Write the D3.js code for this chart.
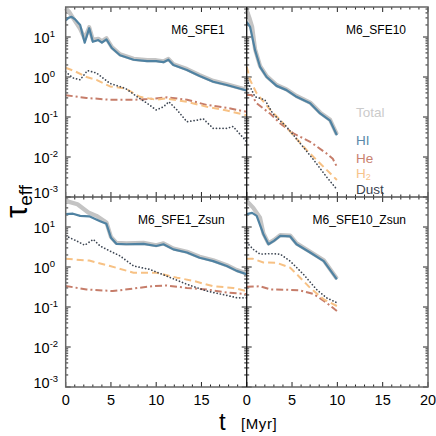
<!DOCTYPE html>
<html>
<head>
<meta charset="utf-8">
<script src="https://cdn.jsdelivr.net/npm/d3@7"></script>
<style>
  body { margin: 0; background: #fff; }
  svg { font-family: "Liberation Sans", Arial, sans-serif; }
</style>
</head>
<body>
<div id="chart"></div>
<script>
// panel names
const panelNames = ["M6_SFE1", "M6_SFE10", "M6_SFE1_Zsun", "M6_SFE10_Zsun"];

// [t (Myr), tau] pairs
const sfe1Total = [[0,52],[0.4,42],[0.8,30],[1.2,22],[1.6,16],[2.1,9],[2.6,17.5],[3.0,8.5],[3.6,9],[4.0,7.8],[4.5,9.3],[5.1,5.6],[6,3.7],[7.5,2.85],[9,2.63],[10,2.63],[10.8,2.47],[11.35,2.84],[11.9,2.1],[13.4,1.58],[14.8,1.11],[16.3,0.8],[17.8,0.66],[20,0.48]];
const sfe1HI = [[0,26],[0.3,30],[0.66,32],[1.0,28],[1.6,20],[2.1,7.2],[2.6,16.6],[3.0,7.6],[3.6,8.4],[4.0,7.2],[4.5,8.7],[5.1,5.3],[6,3.5],[7.5,2.7],[9,2.5],[10,2.5],[10.8,2.35],[11.35,2.7],[11.9,2.0],[13.4,1.5],[14.8,1.06],[16.3,0.76],[17.8,0.63],[20,0.46]];
const sfe1He = [[0,0.35],[2.3,0.30],[4.9,0.27],[7.5,0.27],[9,0.28],[11.2,0.31],[13.4,0.27],[15.6,0.2],[17.8,0.17],[20,0.135]];
const sfe1H2 = [[0,1.7],[1,1.4],[2.3,1.0],[3.4,0.85],[4.9,0.58],[6.6,0.52],[8.2,0.32],[10,0.27],[11,0.29],[13.4,0.24],[15.6,0.18],[17.8,0.145],[20,0.11]];
const sfe1Dust = [[0,1.35],[0.8,0.95],[1.6,0.85],[2.4,1.45],[3.4,1.26],[4.9,0.69],[6.6,0.52],[7.9,0.32],[9,0.22],[10,0.15],[10.8,0.18],[11.4,0.24],[12.3,0.15],[13.4,0.076],[14.5,0.083],[15.2,0.09],[16.3,0.052],[17.8,0.052],[18.5,0.058],[20,0.024]];

const sfe10Total = [[0,47],[0.3,30],[0.6,18],[0.92,5.0],[1.47,1.9],[2.2,1.05],[3.3,0.63],[4.4,0.49],[5.5,0.335],[7,0.23],[8.1,0.129],[9.2,0.085],[9.95,0.037]];
const sfe10HI = [[0,24],[0.37,18],[0.92,4.7],[1.47,1.8],[2.2,1.0],[3.3,0.6],[4.4,0.47],[5.5,0.32],[7,0.22],[8.1,0.123],[9.2,0.081],[9.95,0.035]];
const sfe10He = [[0,0.355],[0.55,0.355],[1.1,0.22],[2.6,0.12],[3.7,0.069],[5.15,0.039],[7,0.024],[8.8,0.0123],[9.5,0.009],[9.95,0.0057]];
const sfe10H2 = [[0,1.8],[0.37,0.84],[1.1,0.39],[2.6,0.15],[3.7,0.084],[5.15,0.035],[6.6,0.015],[8.1,0.0069],[9.95,0.00266]];
const sfe10Dust = [[0,0.84],[0.92,0.32],[2,0.27],[2.9,0.12],[4.4,0.057],[5.9,0.022],[7.4,0.0084],[8.8,0.0032],[9.95,0.00155]];

const zsun1Total = [[0,45],[1.3,37],[2.5,23],[3.4,19],[4.5,13],[5.0,5.7],[5.6,4.0],[6.7,3.9],[8.6,4.0],[10,3.5],[10.8,3.9],[11.9,2.9],[13.4,2.4],[14.8,1.8],[16.3,1.47],[17.8,1.11],[18.9,0.84],[20,0.69]];
const zsun1HI = [[0,21],[0.8,21.5],[1.6,19],[2.6,18.5],[3.8,14],[4.5,12],[5.0,5.4],[5.6,3.8],[6.7,3.7],[8.6,3.8],[10,3.35],[10.8,3.7],[11.9,2.76],[13.4,2.3],[14.8,1.7],[16.3,1.4],[17.8,1.06],[18.9,0.8],[20,0.66]];
const zsun1He = [[0,0.335],[2.3,0.275],[5.2,0.25],[7.5,0.29],[9.7,0.335],[11.1,0.345],[13.4,0.3],[15.6,0.275],[17.8,0.23],[20,0.21]];
const zsun1H2 = [[0,1.6],[2.6,1.45],[4.9,1.06],[7.5,0.72],[10,0.72],[12.3,0.54],[14.1,0.45],[16.3,0.33],[18.5,0.3],[20,0.25]];
const zsun1Dust = [[0,6],[1.2,4.5],[2.1,3.5],[3.05,4.9],[3.8,3.35],[4.9,2.5],[6,1.9],[7.5,1.06],[9.3,0.87],[11.1,0.6],[13.4,0.37],[15.6,0.25],[17.8,0.195],[18.9,0.17],[20,0.17]];

const zsun10Total = [[0,45],[0.73,30],[1.47,17],[1.84,7],[2.4,3.9],[3.0,4.7],[3.7,6.3],[4.8,6.1],[5.5,3.9],[7,2.4],[8.5,1.47],[9.95,0.51]];
const zsun10HI = [[0,21],[0.6,22.5],[1.1,19],[1.84,6.6],[2.4,3.7],[3.0,4.5],[3.7,6],[4.8,5.8],[5.5,3.7],[7,2.3],[8.5,1.4],[9.95,0.49]];
const zsun10He = [[0,0.32],[1.47,0.33],[2.6,0.275],[4.4,0.27],[5.9,0.26],[7.4,0.21],[8.8,0.128],[9.95,0.079]];
const zsun10H2 = [[0,1.6],[0.7,1.6],[1.84,1.3],[3.3,1.27],[4.8,0.96],[5.9,0.54],[7,0.3],[8.5,0.155],[9.95,0.106]];
const zsun10Dust = [[0,4.1],[0.73,2.76],[1.47,2.1],[2.6,2.15],[3.7,2.1],[4.8,1.4],[6.25,0.66],[7.7,0.275],[8.8,0.17],[9.95,0.128]];

// legend / series names
const seriesNames = ["Total", "HI", "He", "H2", "Dust"];
const xTickValues = [0, 5, 10, 15, 20];
const yTickExponents = [1, 0, -1, -2, -3];

const panelSeries = [
  [sfe1Total, sfe1HI, sfe1He, sfe1H2, sfe1Dust],
  [sfe10Total, sfe10HI, sfe10He, sfe10H2, sfe10Dust],
  [zsun1Total, zsun1HI, zsun1He, zsun1H2, zsun1Dust],
  [zsun10Total, zsun10HI, zsun10He, zsun10H2, zsun10Dust]
];

// styles per series
const styles = {
  Total: { color: "#c4c4c4", width: 4.2, dash: null },
  HI:    { color: "#4f82a2", width: 2.2, dash: null },
  He:    { color: "#c67d6a", width: 2, dash: "7,3,2,3" },
  H2:    { color: "#f7c184", width: 2, dash: "7,4" },
  Dust:  { color: "#3d4653", width: 1.7, dash: "0.1,3.2" }
};
const legendColors = { Total: "#cbcbcb", HI: "#5a89aa", He: "#c98270", H2: "#f7c48b", Dust: "#39424f" };

const W = 436, H = 436;
const colX = [[65.7, 246.7], [246.7, 428]];
const rowY = [[7, 197], [197, 387]];

const svg = d3.select("#chart").append("svg")
  .attr("width", W).attr("height", H);

const line = d3.line();

panelSeries.forEach((series, i) => {
  const col = i % 2, row = Math.floor(i / 2);
  const [x0, x1] = colX[col];
  const [y0, y1] = rowY[row];

  const x = d3.scaleLinear().domain([0, 20]).range([x0, x1]);
  const y = d3.scaleLog().domain([1e-3, Math.pow(10, 1.75)]).range([y1, y0]);

  const g = svg.append("g");

  // ticks (inward, all four sides)
  const xMinor = d3.range(0, 21, 1);
  xMinor.forEach(t => {
    const len = t % 5 === 0 ? 5 : 2.5;
    g.append("line").attr("x1", x(t)).attr("x2", x(t))
      .attr("y1", y1).attr("y2", y1 - len).attr("stroke", "#222").attr("stroke-width", 1);
    g.append("line").attr("x1", x(t)).attr("x2", x(t))
      .attr("y1", y0).attr("y2", y0 + len).attr("stroke", "#222").attr("stroke-width", 1);
  });
  y.ticks().forEach(v => {
    const lg = Math.log10(v);
    const major = Math.abs(lg - Math.round(lg)) < 1e-6;
    const len = major ? 5 : 2.5;
    if (y(v) < y0 - 0.5) return;
    g.append("line").attr("x1", x0).attr("x2", x0 + len)
      .attr("y1", y(v)).attr("y2", y(v)).attr("stroke", "#222").attr("stroke-width", 1);
    g.append("line").attr("x1", x1).attr("x2", x1 - len)
      .attr("y1", y(v)).attr("y2", y(v)).attr("stroke", "#222").attr("stroke-width", 1);
  });

  // curves: Total first so HI sits on it
  seriesNames.forEach((name, k) => {
    const st = styles[name];
    const pts = series[k].map(d => [x(d[0]), y(d[1])]);
    g.append("path")
      .attr("d", line(pts))
      .attr("fill", "none")
      .attr("stroke", st.color)
      .attr("stroke-width", st.width)
      .attr("stroke-linejoin", "round")
      .attr("stroke-linecap", name === "Dust" ? "round" : "butt")
      .attr("stroke-dasharray", st.dash);
  });

  // panel title
  g.append("text")
    .attr("x", x1 - 22).attr("y", y0 + 27)
    .attr("text-anchor", "end")
    .style("font-size", "12px")
    .text(panelNames[i]);

  // y labels on the left column
  if (col === 0) {
    yTickExponents.forEach(e => {
      const yy = e === -3 ? y(1e-3) - 5 : y(Math.pow(10, e));
      const t = g.append("text")
        .attr("x", 33.5).attr("y", yy + 6)
        .style("font-size", "14.5px");
      t.append("tspan").text("10");
      t.append("tspan").attr("dy", -6).style("font-size", "9.5px").text(e === 0 ? "0" : (e > 0 ? e : "-" + (-e)));
    });
  }

  // x labels on bottom row (left panel drops its 20, the right panel's 0 sits there)
  if (row === 1) {
    xTickValues.filter(v => col === 1 || v < 20).forEach(v => {
      g.append("text")
        .attr("x", x(v)).attr("y", y1 + 18)
        .attr("text-anchor", "middle")
        .style("font-size", "14.5px")
        .text(v);
    });
  }
});

// frame
svg.append("rect")
  .attr("x", colX[0][0]).attr("y", rowY[0][0])
  .attr("width", colX[1][1] - colX[0][0]).attr("height", rowY[1][1] - rowY[0][0])
  .attr("fill", "none").attr("stroke", "#666").attr("stroke-width", 1.5);
svg.append("line")
  .attr("x1", colX[0][0]).attr("x2", colX[1][1])
  .attr("y1", rowY[1][0]).attr("y2", rowY[1][0])
  .attr("stroke", "#555").attr("stroke-width", 1.3);
svg.append("line")
  .attr("x1", colX[1][0]).attr("x2", colX[1][0])
  .attr("y1", rowY[0][0]).attr("y2", rowY[1][1])
  .attr("stroke", "#111").attr("stroke-width", 1.3);

// legend in top-right panel
const legendY = [117, 145, 163, 177.5, 194];
seriesNames.forEach((name, k) => {
  const t = svg.append("text")
    .attr("x", 356).attr("y", legendY[k])
    .style("font-size", "13.5px")
    .attr("fill", legendColors[name]);
  if (name === "H2") {
    t.append("tspan").text("H");
    t.append("tspan").attr("dy", 2.5).style("font-size", "9px").text("2");
  } else {
    t.text(name);
  }
});

// axis titles
const yt = svg.append("text")
  .attr("transform", "translate(27,218) rotate(-90)")
  .style("font-size", "31px");
yt.append("tspan").text("τ");
yt.append("tspan").attr("dy", 5).style("font-size", "19px").text("eff");

svg.append("text")
  .attr("x", 219).attr("y", 430)
  .style("font-size", "24px")
  .text("t");
svg.append("text")
  .attr("x", 241).attr("y", 429)
  .style("font-size", "15px")
  .style("letter-spacing", "0.6px")
  .text("[Myr]");
</script>
</body>
</html>
